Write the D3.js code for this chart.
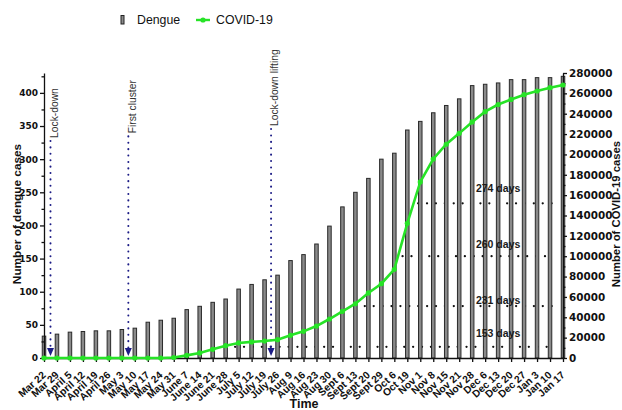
<!DOCTYPE html>
<html>
<head>
<meta charset="utf-8">
<script src="https://cdn.jsdelivr.net/npm/d3@7/dist/d3.min.js"></script>
<style>
	body { margin: 0; background: #fff; }
	svg { display: block; font-family: 'Liberation Sans', Arial, sans-serif; }
	.tick-num { font-family: 'DejaVu Sans', sans-serif; font-weight: bold; fill: #111; }
</style>
</head>
<body>
<svg id="chart" width="622" height="410"></svg>
<script>
const categories = [
	'Mar 22', 'Mar 29', 'April 5', 'April 12', 'April 19', 'April 26', 'May 3', 'May 10',
	'May 17', 'May 24', 'May 31', 'June 7', 'June 14', 'June 21', 'June 28', 'July 5',
	'July 12', 'July 19', 'July 26', 'Aug 9', 'Aug 16', 'Aug 23', 'Aug 30', 'Sept 6',
	'Sept 13', 'Sept 20', 'Sept 29', 'Oct 6', 'Oct 19', 'Nov 1', 'Nov 8', 'Nov 15',
	'Nov 21', 'Nov 28', 'Dec 6', 'Dec 13', 'Dec 20', 'Dec 27', 'Jan 3', 'Jan 10', 'Jan 17'
];

// weekly cumulative dengue cases (left axis)
const dengue = [
	33, 36, 39, 40, 41, 41, 43, 45, 54, 57, 60, 73, 78, 84, 89, 104, 111, 118, 125, 147,
	156, 172, 199, 228, 250, 271, 300, 309, 344, 357, 370, 381, 391, 411, 413, 415, 420,
	420, 423, 423, 425
];

// cumulative COVID-19 cases (right axis)
const covid = [
	0, 0, 0, 0, 0, 0, 0, 0, 0, 0, 500, 2600, 5000, 8500, 12100, 14800, 15800, 16700,
	18000, 22300, 26200, 31400, 38300, 45900, 53300, 63900, 73000, 87100, 132300, 173000,
	195500, 210000, 220700, 231900, 242000, 249000, 254000, 258700, 262300, 265600, 268200
];

const leftTicks = [0, 50, 100, 150, 200, 250, 300, 350, 400];
const rightTicks = [0, 20000, 40000, 60000, 80000, 100000, 120000, 140000, 160000, 180000, 200000, 220000, 240000, 260000, 280000];

// vertical events (placed between "after" and the next week), label starts at dengue value
const events = [
	{ label: 'Lock-down', after: 'Mar 22', labelAt: 332 },
	{ label: 'First cluster', after: 'May 3', labelAt: 339 },
	{ label: 'Lock-down lifting', after: 'July 19', labelAt: 350 },
];

// horizontal day markers on the COVID scale
const dayMarks = [
	{ label: '153 days', level: 11000, labelAt: 21000 },
	{ label: '231 days', level: 51000, labelAt: 53000 },
	{ label: '260 days', level: 100000, labelAt: 108000 },
	{ label: '274 days', level: 152000, labelAt: 163000 },
];

const svg = d3.select('#chart');
const x = d3.scalePoint().domain(categories).range([44, 563]);
const yL = d3.scaleLinear().domain([0, 430]).range([358, 73]);
const yR = d3.scaleLinear().domain([0, 280000]).range([358, 73]);
const base = yL(0);
const GREEN = '#27e327';
const NAVY = '#1c1c86';

// x position where covid curve reaches a level
function crossing(level) {
	for (let i = 1; i < covid.length; i++) {
		if (covid[i] >= level) {
			const t = (level - covid[i - 1]) / (covid[i] - covid[i - 1]);
			return x(categories[i - 1]) + t * x.step();
		}
	}
	return x.range()[1];
}

// horizontal dotted lines
svg.append('g')
	.selectAll('line')
	.data(dayMarks)
	.join('line')
	.attr('x1', (d) => crossing(d.level) + 4.5)
	.attr('x2', x('Jan 10') + 3)
	.attr('y1', (d) => yR(d.level))
	.attr('y2', (d) => yR(d.level))
	.attr('stroke', '#111')
	.attr('stroke-width', 2.2)
	.attr('stroke-linecap', 'round')
	.attr('stroke-dasharray', '0.1,8.8');

// bars
svg.append('g')
	.selectAll('rect')
	.data(dengue)
	.join('rect')
	.attr('x', (d, i) => x(categories[i]) - 1.75)
	.attr('y', (d) => yL(d))
	.attr('width', 3.5)
	.attr('height', (d) => base - yL(d))
	.attr('fill', '#8a8a8a')
	.attr('stroke', '#2a2a2a')
	.attr('stroke-width', 1);

// day labels
svg.append('g')
	.selectAll('text')
	.data(dayMarks)
	.join('text')
	.attr('x', x('Dec 13'))
	.attr('y', (d) => yR(d.labelAt))
	.attr('text-anchor', 'middle')
	.attr('font-size', 10.5)
	.attr('font-weight', 'bold')
	.attr('fill', '#1a1a1a')
	.text((d) => d.label);

// vertical event lines
const ev = svg.append('g')
	.selectAll('g')
	.data(events)
	.join('g')
	.attr('transform', (d) => `translate(${x(d.after) + x.step() / 2},0)`);

ev.append('line')
	.attr('x1', 0)
	.attr('x2', 0)
	.attr('y1', (d) => yL(d.labelAt) + 3)
	.attr('y2', base - 8)
	.attr('stroke', NAVY)
	.attr('stroke-width', 2)
	.attr('stroke-linecap', 'round')
	.attr('stroke-dasharray', '0.1,6.3');

ev.append('path')
	.attr('d', `M-3.5,${base - 10}L3.5,${base - 10}L0,${base - 2}Z`)
	.attr('fill', NAVY);

ev.append('text')
	.attr('transform', (d) => `translate(7.3,${yL(d.labelAt)}) rotate(-90)`)
	.attr('font-size', 10.3)
	.attr('fill', '#333')
	.text((d) => d.label);

// axes
const leftAxis = svg.append('g')
	.attr('transform', 'translate(44,0)')
	.call(d3.axisLeft(yL).tickValues(leftTicks).tickSize(4).tickSizeOuter(0).tickPadding(2).tickFormat(d3.format('d')));
svg.append('g')
	.attr('transform', 'translate(44,0)')
	.call(d3.axisLeft(yL).tickValues(d3.range(25, 430, 50)).tickSize(2.5).tickFormat(''))
	.call((g) => g.select('.domain').remove());

const rightAxis = svg.append('g')
	.attr('transform', 'translate(563,0)')
	.call(d3.axisRight(yR).tickValues(rightTicks).tickSize(4).tickSizeOuter(0).tickPadding(2).tickFormat(d3.format('d')));
svg.append('g')
	.attr('transform', 'translate(563,0)')
	.call(d3.axisRight(yR).tickValues(d3.range(10000, 280000, 20000)).tickSize(2.5).tickFormat(''))
	.call((g) => g.select('.domain').remove());

[leftAxis, rightAxis].forEach((a) => {
	a.selectAll('text').attr('class', 'tick-num');
});
leftAxis.selectAll('text').attr('font-size', 9);
rightAxis.selectAll('text').attr('font-size', 10.4);

const bottomAxis = svg.append('g')
	.attr('transform', `translate(0,${base})`)
	.call(d3.axisBottom(x).tickSize(4).tickSizeOuter(0));
bottomAxis.selectAll('text')
	.attr('x', 0)
	.attr('y', 0)
	.attr('dy', 0)
	.attr('transform', 'translate(2,18) rotate(-42)')
	.style('text-anchor', 'end')
	.attr('font-size', 10.3)
	.attr('font-weight', 'bold')
	.attr('font-family', "'Liberation Sans', Arial, sans-serif")
	.attr('fill', '#111');

svg.selectAll('.domain, .tick line').attr('stroke', '#111').attr('stroke-width', 1.3);

// covid line
svg.append('path')
	.datum(covid)
	.attr('fill', 'none')
	.attr('stroke', GREEN)
	.attr('stroke-width', 2.6)
	.attr('d', d3.line().x((d, i) => x(categories[i])).y((d) => yR(d)));

svg.append('g')
	.selectAll('circle')
	.data(covid)
	.join('circle')
	.attr('cx', (d, i) => x(categories[i]))
	.attr('cy', (d) => yR(d))
	.attr('r', 2.6)
	.attr('fill', GREEN);

// axis titles
svg.append('text')
	.attr('transform', 'translate(20.5,214) rotate(-90)')
	.attr('text-anchor', 'middle')
	.attr('font-size', 11.8)
	.attr('font-weight', 'bold')
	.attr('fill', '#111')
	.text('Number of dengue cases');

svg.append('text')
	.attr('transform', 'translate(620,214) rotate(-90)')
	.attr('text-anchor', 'middle')
	.attr('font-size', 11.3)
	.attr('font-weight', 'bold')
	.attr('fill', '#111')
	.text('Number of COVID-19 cases');

svg.append('text')
	.attr('x', 304)
	.attr('y', 408)
	.attr('text-anchor', 'middle')
	.attr('font-size', 12.5)
	.attr('font-weight', 'bold')
	.attr('fill', '#111')
	.text('Time');

// legend
const legend = svg.append('g');
legend.append('rect')
	.attr('x', 121)
	.attr('y', 15.5)
	.attr('width', 3)
	.attr('height', 8.5)
	.attr('fill', '#8a8a8a')
	.attr('stroke', '#222')
	.attr('stroke-width', 1);
legend.append('text')
	.attr('x', 137)
	.attr('y', 24)
	.attr('font-size', 12.3)
	.attr('fill', '#111')
	.text('Dengue');
legend.append('line')
	.attr('x1', 196)
	.attr('x2', 210)
	.attr('y1', 20)
	.attr('y2', 20)
	.attr('stroke', GREEN)
	.attr('stroke-width', 2.4);
legend.append('circle')
	.attr('cx', 203)
	.attr('cy', 20)
	.attr('r', 2.6)
	.attr('fill', GREEN);
legend.append('text')
	.attr('x', 216)
	.attr('y', 24)
	.attr('font-size', 12.3)
	.attr('fill', '#111')
	.text('COVID-19');
</script>
</body>
</html>
